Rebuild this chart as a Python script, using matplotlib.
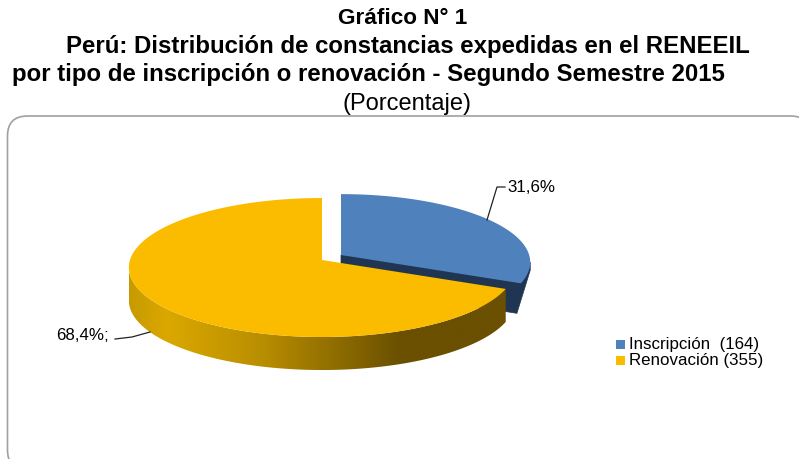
import numpy as np
import matplotlib
matplotlib.use('Agg')
import matplotlib.pyplot as plt
from matplotlib.colors import LinearSegmentedColormap
from matplotlib.patches import FancyBboxPatch, Polygon, Rectangle

plt.rcParams['font.family'] = ['Liberation Sans', 'DejaVu Sans']

# Data
categories = ['Inscripción  (164)', 'Renovación (355)']
counts = [164, 355]
percent_labels = ['31,6%', '68,4%;']
colors = ['#4F81BD', '#FBBC00']

# Pie geometry in pixels
R = 192
S = 68.7
K = 0.108
DEPTH = 33
BLUE_DEPTH = 30
YELLOW_APEX = (322, 260)
BLUE_APEX = (341, 255)
BLUE_RADIUS = 0.98


# Project a point of the unit disc, angle clockwise from the top
def project(theta, apex, radius=1.0):
    u = radius * np.sin(theta)
    v = radius * np.cos(theta)
    w = 1 + K * v
    return np.column_stack([apex[0] + R * u / w, apex[1] - S * v / w])


def rim(start, end, apex, radius=1.0):
    return project(np.linspace(start, end, 240), apex, radius)


fig = plt.figure(figsize=(7.99, 4.59), dpi=100)
ax = fig.add_axes([0, 0, 1, 1])
ax.set_xlim(0, 799)
ax.set_ylim(459, 0)
ax.axis('off')

# Rounded chart frame, it runs off the right and bottom of the picture
ax.add_patch(FancyBboxPatch((7.5, 116), 803, 354, boxstyle='round,pad=0,rounding_size=20',
                            fc='white', ec='#A0A0A0', lw=1.2, zorder=1))

# Slice angles come from the counts
split = 2 * np.pi * counts[0] / sum(counts)

# Blue slice: one dark wall under the top
blue_rim = rim(0, split, BLUE_APEX, BLUE_RADIUS)
outer = blue_rim[np.argmax(blue_rim[:, 0]):]
drop = np.array([0, BLUE_DEPTH])
blue_wall = np.vstack([[BLUE_APEX], outer[0], outer[0] + [0, 8], outer[-1] + drop - [4, 0],
                       np.array(BLUE_APEX) + drop])
ax.add_patch(Polygon(blue_wall, fc='#1F3552', ec='#1F3552', lw=0.5, zorder=2))
ax.add_patch(Polygon(np.vstack([[BLUE_APEX], blue_rim]), fc=colors[0], ec='none', zorder=3))

# Yellow slice: shaded side wall, then the top
yellow_rim = rim(split, 2 * np.pi, YELLOW_APEX)
front = yellow_rim[: np.argmin(yellow_rim[:, 0]) + 1]
down = np.array([0, DEPTH])
wall = Polygon(np.vstack([front, (front + down)[::-1]]), fc='none', ec='none', zorder=4)
ax.add_patch(wall)
shade = LinearSegmentedColormap.from_list(
    'side', [(0, '#C69A00'), (0.10, '#DBA800'), (0.35, '#B98E00'), (0.72, '#6A5000'), (1, '#6A5000')])
grad = ax.imshow(np.linspace(0, 1, 256)[None, :], extent=(129, 506, 370, 260), cmap=shade,
                 aspect='auto', zorder=4)
grad.set_clip_path(wall)
ax.set_xlim(0, 799)
ax.set_ylim(459, 0)
ax.add_patch(Polygon(np.vstack([[YELLOW_APEX], yellow_rim]), fc=colors[1], ec='none', zorder=5))

# Data labels with leader lines
ax.plot([487, 497, 505], [220, 187, 187], color='#222222', lw=0.9, zorder=6)
ax.plot([150, 132, 115], [332, 337, 339], color='#222222', lw=0.9, zorder=6)
ax.text(507, 187, percent_labels[0], fontsize=12.2, va='center', ha='left', zorder=6)
ax.text(56, 335, percent_labels[1], fontsize=12.2, va='center', ha='left', zorder=6)

# Legend
for y, name, col in zip([344, 360], categories, colors):
    ax.add_patch(Rectangle((616, y - 4.5), 9, 9, fc=col, ec='none', zorder=6))
    ax.text(629, y, name, fontsize=12.2, va='center', ha='left', zorder=6)

# Title block
ax.text(403, 19, 'Gráfico N° 1', fontsize=16.2, fontweight='bold', ha='center', va='center')
ax.text(407.5, 47, 'Perú: Distribución de constancias expedidas en el RENEEIL', fontsize=17.3,
        fontweight='bold', ha='center', va='center')
ax.text(368.5, 74, 'por tipo de inscripción o renovación - Segundo Semestre 2015', fontsize=17.3,
        fontweight='bold', ha='center', va='center')
ax.text(406.5, 104, '(Porcentaje)', fontsize=17, ha='center', va='center')

fig.savefig('out.png', dpi=100)
